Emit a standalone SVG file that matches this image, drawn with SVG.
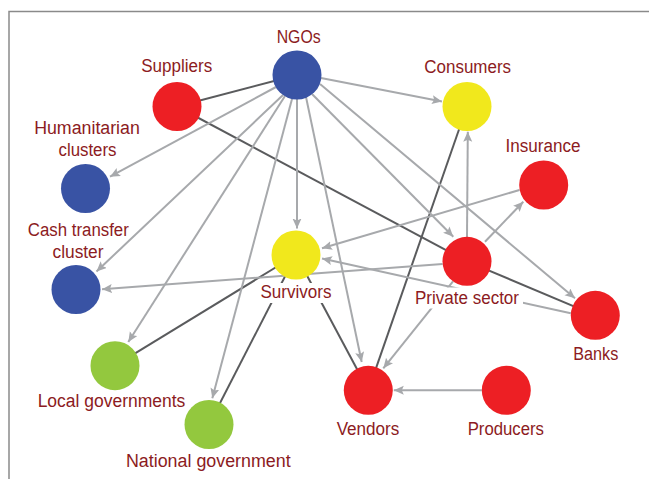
<svg xmlns="http://www.w3.org/2000/svg" width="649" height="479" viewBox="0 0 649 479">
<style>
.lt{stroke:#a7a9ac;stroke-width:2;fill:none}
.arr{marker-end:url(#ah)}
.dk{stroke:#5a5b5d;stroke-width:2;fill:none}
.blue{fill:#3953a4}
.red{fill:#ed1f24}
.yel{fill:#f1e81c}
.grn{fill:#93c83e}
text{font-family:"Liberation Sans",Arial,sans-serif;font-size:18px;fill:#8c1b22;text-anchor:middle}
.bg{fill:#ffffff}
</style>
<defs>
<marker id="ah" markerUnits="userSpaceOnUse" markerWidth="12" markerHeight="10" refX="10" refY="4.5" orient="auto">
<path d="M0,0 L10,4.5 L0,9 L2,4.5 Z" fill="#a7a9ac"/>
</marker>
</defs>
<rect x="0" y="0" width="649" height="479" fill="#ffffff"/>
<path d="M9,479 V11.5 H649" fill="none" stroke="#8a8a8a" stroke-width="1.5"/>
<g id="connectors">
<line class="dk" x1="177" y1="106.5" x2="297" y2="75"/>
<line class="dk" x1="177" y1="106.5" x2="467" y2="261.3"/>
<line class="dk" x1="467" y1="261.3" x2="595.3" y2="315.3"/>
<line class="dk" x1="467" y1="106.5" x2="368.3" y2="390.3"/>
<line class="dk" x1="296" y1="255" x2="115" y2="365.7"/>
<line class="dk" x1="296" y1="255" x2="209" y2="424.5"/>
<line class="dk" x1="296" y1="255" x2="368.3" y2="390.3"/>
<line class="lt arr" x1="321" y1="78" x2="442" y2="101.5"/>
<line class="lt arr" x1="312" y1="94" x2="453.3" y2="236.7"/>
<line class="lt arr" x1="320" y1="84" x2="575" y2="298.3"/>
<line class="lt arr" x1="306" y1="97" x2="361.7" y2="362"/>
<line class="lt arr" x1="297" y1="99" x2="297" y2="228.5"/>
<line class="lt arr" x1="292" y1="99" x2="212.3" y2="398.3"/>
<line class="lt arr" x1="285" y1="96" x2="128.3" y2="342"/>
<line class="lt arr" x1="283" y1="95" x2="96.5" y2="271.5"/>
<line class="lt arr" x1="276" y1="87" x2="110" y2="176.7"/>
<line class="lt arr" x1="467" y1="237" x2="467.8" y2="131.7"/>
<line class="lt arr" x1="485" y1="241.7" x2="523.3" y2="201.7"/>
<line class="lt arr" x1="519.5" y1="190" x2="322" y2="248.3"/>
<line class="lt arr" x1="442.6" y1="264" x2="102" y2="289.3"/>
<line class="lt arr" x1="570.8" y1="313.3" x2="322" y2="258.5"/>
<line class="lt arr" x1="453" y1="281.3" x2="383.3" y2="368.3"/>
<line class="lt arr" x1="481.8" y1="390.3" x2="393.8" y2="390.3"/>
</g>
<g id="ngos"><circle class="blue" cx="297" cy="75" r="24.5"/><text x="298.7" y="42.5" textLength="44" lengthAdjust="spacingAndGlyphs">NGOs</text></g>
<g id="suppliers"><circle class="red" cx="177" cy="106.5" r="24.5"/><text x="176.7" y="71.5" textLength="71" lengthAdjust="spacingAndGlyphs">Suppliers</text></g>
<g id="humanitarian-clusters"><circle class="blue" cx="85.5" cy="188.5" r="24.5"/><text x="87" y="134" textLength="105.7" lengthAdjust="spacingAndGlyphs">Humanitarian</text><text x="87.5" y="155.7" textLength="58" lengthAdjust="spacingAndGlyphs">clusters</text></g>
<g id="cash-transfer-cluster"><circle class="blue" cx="76" cy="289.5" r="24.5"/><text x="78.3" y="236" textLength="101" lengthAdjust="spacingAndGlyphs">Cash transfer</text><text x="78" y="258" textLength="51" lengthAdjust="spacingAndGlyphs">cluster</text></g>
<g id="survivors"><circle class="yel" cx="296" cy="255" r="24.5"/><rect class="bg" x="258" y="283" width="76" height="20"/><text x="296" y="297.7" textLength="71" lengthAdjust="spacingAndGlyphs">Survivors</text></g>
<g id="local-governments"><circle class="grn" cx="115" cy="365.7" r="24.5"/><text x="111.5" y="406.7" textLength="147.7" lengthAdjust="spacingAndGlyphs">Local governments</text></g>
<g id="national-government"><circle class="grn" cx="209" cy="424.5" r="24.5"/><text x="208.3" y="466.7" textLength="164.7" lengthAdjust="spacingAndGlyphs">National government</text></g>
<g id="consumers"><circle class="yel" cx="467" cy="106.5" r="24.5"/><text x="467.7" y="72.7" textLength="86.7" lengthAdjust="spacingAndGlyphs">Consumers</text></g>
<g id="insurance"><circle class="red" cx="543.7" cy="185" r="24.5"/><text x="543" y="151.7" textLength="75" lengthAdjust="spacingAndGlyphs">Insurance</text></g>
<g id="private-sector"><circle class="red" cx="467" cy="261.3" r="24.5"/><rect class="bg" x="412" y="287.5" width="111" height="21"/><text x="467" y="304" textLength="104" lengthAdjust="spacingAndGlyphs">Private sector</text></g>
<g id="banks"><circle class="red" cx="595.3" cy="315.3" r="24.5"/><text x="595.8" y="360" textLength="45" lengthAdjust="spacingAndGlyphs">Banks</text></g>
<g id="vendors"><circle class="red" cx="368.3" cy="390.3" r="24.5"/><text x="368" y="434.7" textLength="62.7" lengthAdjust="spacingAndGlyphs">Vendors</text></g>
<g id="producers"><circle class="red" cx="506.3" cy="390.3" r="24.5"/><text x="505.8" y="434.7" textLength="76.3" lengthAdjust="spacingAndGlyphs">Producers</text></g>
</svg>
